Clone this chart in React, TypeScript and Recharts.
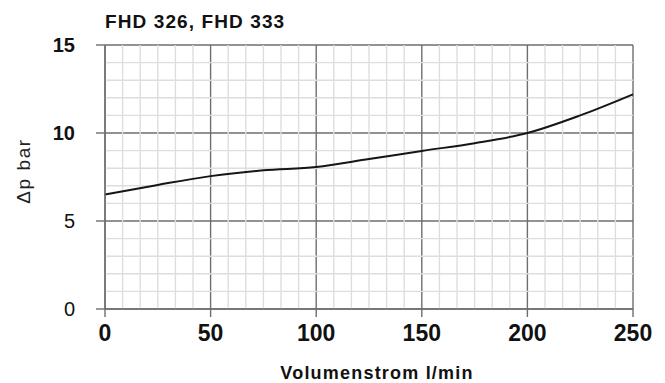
import { LineChart, Line, XAxis, YAxis, CartesianGrid, ReferenceLine } from 'recharts';

const flow = [0, 25, 50, 75, 100, 125, 150, 175, 200, 225, 250];
const pressure = [6.5, 7.05, 7.55, 7.88, 8.07, 8.52, 8.98, 9.42, 10.0, 11.0, 12.2];

const xTicks = [0, 50, 100, 150, 200, 250];
const yTicks = [0, 5, 10, 15];

// fine grid: 6 divisions per 50 l/min, 1 bar steps
const minorX = Array.from({ length: 31 }, (_, i) => (i * 250) / 30).filter((_, i) => i % 6 !== 0);
const minorY = [1, 2, 3, 4, 6, 7, 8, 9, 11, 12, 13, 14];

const data = flow.map((q, i) => ({ q, dp: pressure[i] }));

const MAJOR = '#6e6e6e';
const MINOR = '#dedede';
const FONT = '"Liberation Sans", Arial, sans-serif';

function YTick(props: any) {
  const { x, y, payload } = props;
  const heavy = payload.value >= 10;
  return (
    <text
      x={x}
      y={y}
      dy="0.36em"
      textAnchor="end"
      fill="#111"
      style={{ fontFamily: FONT, fontSize: 20, fontWeight: heavy ? 700 : 400 }}
    >
      {payload.value}
    </text>
  );
}

export default function App() {
  return (
    <div style={{ position: 'absolute', left: 0, top: 0, width: 665, height: 383, background: '#fff' }}>
      <LineChart width={665} height={383} data={data} margin={{ top: 45, right: 32, bottom: 0, left: 0 }}>
        <CartesianGrid stroke={MAJOR} strokeWidth={1.4} />
        {minorX.map((v) => (
          <ReferenceLine key={'x' + v} x={v} stroke={MINOR} strokeWidth={1.4} />
        ))}
        {minorY.map((v) => (
          <ReferenceLine key={'y' + v} y={v} stroke={MINOR} strokeWidth={1.4} />
        ))}
        <XAxis
          dataKey="q"
          type="number"
          domain={[0, 250]}
          ticks={xTicks}
          height={74}
          tickSize={8}
          tickMargin={8}
          axisLine={{ stroke: MAJOR, strokeWidth: 1.4 }}
          tickLine={{ stroke: MAJOR, strokeWidth: 1.4 }}
          tick={{ fill: '#111', fontSize: 23, fontWeight: 700, fontFamily: FONT }}
        />
        <YAxis
          type="number"
          domain={[0, 15]}
          ticks={yTicks}
          width={105}
          tickSize={9}
          tickMargin={21}
          axisLine={{ stroke: MAJOR, strokeWidth: 1.4 }}
          tickLine={{ stroke: MAJOR, strokeWidth: 1.4 }}
          tick={<YTick />}
        />
        <Line
          type="monotone"
          dataKey="dp"
          stroke="#151515"
          strokeWidth={2}
          dot={false}
          isAnimationActive={false}
        />
      </LineChart>
      <svg width={665} height={383} style={{ position: 'absolute', left: 0, top: 0, pointerEvents: 'none' }}>
        <text x={105} y={28} fill="#111" style={{ fontFamily: FONT, fontSize: 19, fontWeight: 700, letterSpacing: 1.1 }}>
          FHD 326, FHD 333
        </text>
        <text
          x={377}
          y={378.5}
          textAnchor="middle"
          fill="#111"
          style={{ fontFamily: FONT, fontSize: 18, fontWeight: 700, letterSpacing: 1.2 }}
        >
          Volumenstrom l/min
        </text>
        <text
          transform="translate(30,171) rotate(-90)"
          textAnchor="middle"
          fill="#222"
          style={{ fontFamily: FONT, fontSize: 19, letterSpacing: 1.6 }}
        >
          Δp bar
        </text>
      </svg>
    </div>
  );
}
